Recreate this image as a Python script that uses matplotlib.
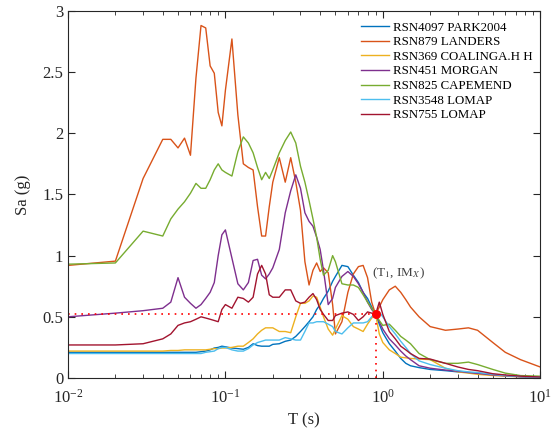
import numpy as np
import matplotlib
matplotlib.use('Agg')
import matplotlib.pyplot as plt
from matplotlib.ticker import LogLocator, NullFormatter

plt.rcParams['font.family'] = ['Liberation Serif', 'DejaVu Serif']
plt.rcParams['mathtext.fontset'] = 'stix'

# periods (s)
T = [0.01, 0.02, 0.03, 0.04, 0.045, 0.05, 0.055, 0.06, 0.065, 0.07, 0.075, 0.08, 0.085,
     0.09, 0.095, 0.1, 0.11, 0.12, 0.13, 0.14, 0.15, 0.16, 0.17, 0.18, 0.19, 0.2, 0.22,
     0.24, 0.26, 0.28, 0.3, 0.32, 0.34, 0.36, 0.38, 0.4, 0.42, 0.45, 0.48, 0.5, 0.55,
     0.6, 0.65, 0.7, 0.75, 0.8, 0.85, 0.9, 0.95, 1.0, 1.1, 1.2, 1.3, 1.4, 1.5, 1.7,
     2.0, 2.5, 3.0, 3.5, 4.0, 5.0, 6.0, 7.5, 10.0]

sa_park2004 = [0.21, 0.21, 0.21, 0.21, 0.21, 0.21, 0.21, 0.21, 0.21, 0.215, 0.22, 0.23, 0.245,
               0.25, 0.26, 0.255, 0.245, 0.24, 0.235, 0.25, 0.28, 0.265, 0.26, 0.26, 0.26, 0.275, 0.28,
               0.3, 0.31, 0.34, 0.38, 0.42, 0.46, 0.5, 0.56, 0.6, 0.65, 0.71, 0.79, 0.83, 0.92,
               0.91, 0.84, 0.78, 0.7, 0.65, 0.58, 0.52, 0.44, 0.37, 0.28, 0.22, 0.16, 0.12, 0.1, 0.085,
               0.07, 0.06, 0.05, 0.045, 0.04, 0.028, 0.02, 0.012, 0.006]

sa_landers = [0.92, 0.955, 1.63, 1.95, 1.95, 1.88, 1.96, 1.82, 2.45, 2.88, 2.86, 2.55, 2.49,
              2.17, 2.06, 2.35, 2.77, 2.15, 1.75, 1.72, 1.70, 1.4, 1.16, 1.16, 1.40, 1.6, 1.80,
              1.6, 1.80, 1.6, 1.37, 0.95, 0.76, 0.88, 0.94, 0.87, 0.9, 0.86, 0.6, 0.36, 0.46,
              0.7, 0.85, 0.91, 0.92, 0.82, 0.62, 0.52, 0.58, 0.64, 0.72, 0.75, 0.7, 0.64, 0.58, 0.5,
              0.42, 0.39, 0.4, 0.41, 0.39, 0.29, 0.21, 0.15, 0.09]

sa_coalinga = [0.22, 0.22, 0.22, 0.22, 0.225, 0.225, 0.23, 0.23, 0.23, 0.23, 0.23, 0.235, 0.24,
               0.24, 0.245, 0.245, 0.25, 0.26, 0.26, 0.29, 0.32, 0.36, 0.39, 0.41, 0.41, 0.41, 0.38,
               0.38, 0.37, 0.5, 0.61, 0.61, 0.63, 0.67, 0.66, 0.58, 0.5, 0.4, 0.35, 0.4, 0.51,
               0.48, 0.42, 0.4, 0.38, 0.44, 0.49, 0.52, 0.36, 0.29, 0.23, 0.2, 0.17, 0.165, 0.16, 0.155,
               0.15, 0.08, 0.05, 0.04, 0.03, 0.02, 0.015, 0.01, 0.005]

sa_morgan = [0.5, 0.53, 0.55, 0.57, 0.62, 0.82, 0.66, 0.61, 0.57, 0.6, 0.65, 0.7, 0.78,
             1.0, 1.17, 1.21, 0.98, 0.77, 0.72, 0.78, 0.96, 0.97, 0.84, 0.81, 0.85, 0.9, 1.05,
             1.35, 1.53, 1.66, 1.55, 1.35, 1.28, 1.24, 1.15, 1.05, 0.88, 0.6, 0.65, 0.74, 0.83,
             0.87, 0.83, 0.77, 0.7, 0.62, 0.56, 0.52, 0.46, 0.4, 0.32, 0.27, 0.22, 0.18, 0.15, 0.1,
             0.08, 0.065, 0.055, 0.045, 0.038, 0.025, 0.018, 0.01, 0.005]

sa_capemend = [0.93, 0.94, 1.2, 1.16, 1.3, 1.38, 1.44, 1.51, 1.59, 1.55, 1.55, 1.62, 1.70,
               1.75, 1.70, 1.68, 1.65, 1.85, 1.97, 1.92, 1.84, 1.72, 1.62, 1.68, 1.63, 1.7, 1.84,
               1.94, 2.01, 1.92, 1.73, 1.6, 1.45, 1.3, 1.15, 0.97, 0.84, 0.88, 1.0, 0.95, 0.77,
               0.76, 0.76, 0.74, 0.68, 0.62, 0.57, 0.52, 0.47, 0.43, 0.44, 0.39, 0.34, 0.31, 0.28, 0.2,
               0.15, 0.12, 0.12, 0.13, 0.11, 0.07, 0.04, 0.02, 0.015]

sa_lomap3548 = [0.2, 0.2, 0.2, 0.2, 0.2, 0.2, 0.2, 0.2, 0.2, 0.2, 0.21, 0.215, 0.22,
                0.24, 0.25, 0.25, 0.23, 0.22, 0.22, 0.24, 0.27, 0.29, 0.3, 0.31, 0.31, 0.31, 0.31,
                0.33, 0.32, 0.31, 0.31, 0.38, 0.45, 0.45, 0.46, 0.46, 0.46, 0.44, 0.42, 0.38, 0.36,
                0.41, 0.45, 0.45, 0.45, 0.46, 0.5, 0.53, 0.54, 0.5, 0.42, 0.36, 0.3, 0.25, 0.2, 0.14,
                0.11, 0.08, 0.06, 0.05, 0.045, 0.03, 0.02, 0.012, 0.006]

sa_lomap755 = [0.27, 0.27, 0.28, 0.32, 0.36, 0.43, 0.45, 0.46, 0.48, 0.50, 0.49, 0.48, 0.47,
               0.46, 0.56, 0.6, 0.57, 0.66, 0.65, 0.62, 0.66, 0.85, 0.92, 0.85, 0.68, 0.66, 0.66,
               0.72, 0.72, 0.63, 0.61, 0.62, 0.66, 0.69, 0.64, 0.56, 0.52, 0.47, 0.47, 0.51, 0.53,
               0.54, 0.52, 0.47, 0.5, 0.54, 0.53, 0.52, 0.62, 0.52, 0.38, 0.32, 0.26, 0.23, 0.2, 0.16,
               0.155, 0.12, 0.09, 0.07, 0.06, 0.035, 0.025, 0.015, 0.008]

labels = ['RSN4097 PARK2004', 'RSN879 LANDERS', 'RSN369 COALINGA.H H', 'RSN451 MORGAN',
          'RSN825 CAPEMEND', 'RSN3548 LOMAP', 'RSN755 LOMAP']
colors = ['#0072BD', '#D95319', '#EDB120', '#7E2F8E', '#77AC30', '#4DBEEE', '#A2142F']

T1 = 0.9
IMx = 0.52

fig = plt.figure(figsize=(5.51, 4.33), dpi=100)
ax = fig.add_axes([0.1234, 0.127, 0.857, 0.848])

series = [sa_park2004, sa_landers, sa_coalinga, sa_morgan, sa_capemend, sa_lomap3548, sa_lomap755]
for s, lab, c in zip(series, labels, colors):
    ax.plot(T, s, color=c, lw=1.0, label=lab)

# conditioning point
ax.plot([0.01, T1], [IMx, IMx], color='red', ls=(0, (1, 3)), lw=1.2)
ax.plot([T1, T1], [0, IMx], color='red', ls=(0, (1, 3)), lw=1.2)
ax.plot(T1, IMx, 'o', color='red', ms=5.5)
ax.text(0.86, 0.83, r'(T$_1$, IM$_X$)', fontsize=9.5, color='#404040')

ax.set_xscale('log')
ax.set_xlim(0.01, 10)
ax.set_ylim(0, 3)
ax.set_yticks([0, 0.5, 1, 1.5, 2, 2.5, 3])
ax.set_yticklabels(['0', '0.5', '1', '1.5', '2', '2.5', '3'])
ax.xaxis.set_minor_locator(LogLocator(base=10, subs=np.arange(2, 10)))
ax.xaxis.set_minor_formatter(NullFormatter())

ax.tick_params(which='both', direction='in', top=True, right=True, colors='#262626',
               labelsize=12)
ax.tick_params(which='major', length=5, width=0.8)
ax.tick_params(which='minor', length=3, width=0.6)
ax.tick_params(axis='x', pad=8)
for sp in ax.spines.values():
    sp.set_color('#262626')
    sp.set_linewidth(0.8)

ax.set_xlabel('T (s)', fontsize=12, color='#262626')
ax.set_ylabel('Sa (g)', fontsize=12, color='#262626', labelpad=8)

ax.legend(loc='upper right', frameon=False, fontsize=9.3, handlelength=2.2,
          handletextpad=0.3, labelspacing=0.2, borderaxespad=0.0,
          bbox_to_anchor=(0.995, 0.985))

fig.savefig('out.png', dpi=100)
